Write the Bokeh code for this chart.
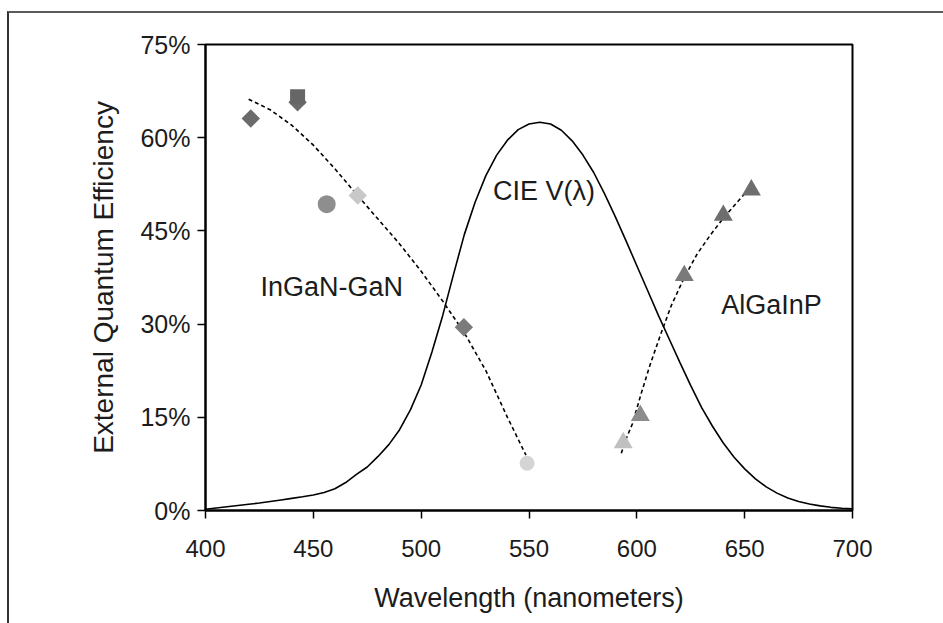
from bokeh.plotting import figure
from bokeh.models import Range1d, FixedTicker, PrintfTickFormatter
from bokeh.core.properties import value
from bokeh.embed import file_html
from bokeh.resources import INLINE

# CIE V(lambda) curve, scaled (percent)
cie_wl = [400, 405, 410, 415, 420, 425, 430, 435, 440, 445, 450, 455, 460, 465, 470, 475,
          480, 485, 490, 495, 500, 505, 510, 515, 520, 525, 530, 535, 540, 545, 550, 555,
          560, 565, 570, 575, 580, 585, 590, 595, 600, 605, 610, 615, 620, 625, 630, 635,
          640, 645, 650, 655, 660, 665, 670, 675, 680, 685, 690, 695, 700]
cie_eff = [0.2, 0.4, 0.6, 0.8, 1.0, 1.2, 1.45, 1.7, 1.95, 2.2, 2.5, 2.9, 3.5, 4.5, 5.8, 7.0,
           8.7, 10.6, 13.0, 16.2, 20.2, 25.5, 31.4, 38.0, 44.4, 49.6, 53.9, 57.2, 59.6, 61.3, 62.2, 62.5,
           62.2, 61.2, 59.5, 57.2, 54.4, 51.0, 47.3, 43.4, 39.4, 35.4, 31.4, 27.6, 23.8, 20.1, 16.6, 13.6,
           10.9, 8.6, 6.7, 5.1, 3.8, 2.8, 2.0, 1.45, 1.06, 0.75, 0.51, 0.36, 0.26]

# dashed trend lines (percent)
ingan_fit_wl = [420, 430, 440, 450, 460, 470, 480, 490, 500, 510, 520, 530, 540, 548.6]
ingan_fit_eff = [66.2, 64.5, 62.0, 58.8, 55.0, 50.9, 46.9, 42.9, 38.5, 33.7, 28.6, 22.5, 15.0, 8.9]
algainp_fit_wl = [592.8, 595, 598, 602, 606, 611, 616, 622, 628, 634, 640, 645, 650, 653]
algainp_fit_eff = [9.2, 11.5, 14.0, 18.8, 23.3, 28.3, 33.0, 37.5, 41.3, 44.3, 47.0, 49.0, 51.0, 52.0]

# InGaN-GaN measured points
ingan_diamond_wl = [421.0, 442.7, 470.6, 519.8]
ingan_diamond_eff = [63.1, 65.7, 50.7, 29.5]
ingan_diamond_color = ["#6b6b6b", "#6b6b6b", "#c8c8c8", "#7b7b7b"]
ingan_square_wl = [442.7]
ingan_square_eff = [66.6]
ingan_circle_wl = [456.2, 549.1]
ingan_circle_eff = [49.3, 7.6]
ingan_circle_color = ["#8e8e8e", "#d4d4d4"]

# AlGaInP measured points
algainp_wl = [593.7, 601.6, 622.0, 640.1, 653.1]
algainp_eff = [10.9, 15.3, 37.8, 47.5, 51.6]
algainp_color = ["#c0c0c0", "#8c8c8c", "#7a7a7a", "#6e6e6e", "#6e6e6e"]

x_ticks = [400, 450, 500, 550, 600, 650, 700]
y_ticks = [0, 15, 30, 45, 60, 75]

FONT = "Liberation Sans"
TXT = "#1c1c1c"

p = figure(width=934, height=610, output_backend="svg", toolbar_location=None,
           x_range=Range1d(400, 700), y_range=Range1d(0, 75),
           min_border_left=196, min_border_right=91, min_border_top=31, min_border_bottom=113)
p.frame_width = 647
p.frame_height = 466
p.xgrid.visible = False
p.ygrid.visible = False
p.background_fill_color = "white"
p.border_fill_color = "white"
p.outline_line_color = "black"
p.outline_line_width = 2
p.outline_line_alpha = 1

for ax in (p.xaxis[0], p.yaxis[0]):
    ax.axis_line_width = 2
    ax.axis_line_color = "black"
    ax.major_tick_line_width = 1.5
    ax.major_tick_line_color = "black"
    ax.major_tick_out = 8
    ax.major_tick_in = 0
    ax.minor_tick_line_color = None
    ax.major_label_text_font = FONT
    ax.major_label_text_color = TXT
    ax.axis_label_text_font = FONT
    ax.axis_label_text_font_style = "normal"
    ax.axis_label_text_color = TXT

p.xaxis[0].major_label_text_font_size = "24px"
p.yaxis[0].major_label_text_font_size = "25px"
p.xaxis[0].axis_label_text_font_size = "27px"
p.yaxis[0].axis_label_text_font_size = "28px"
p.xaxis[0].ticker = FixedTicker(ticks=x_ticks)
p.yaxis[0].ticker = FixedTicker(ticks=y_ticks)
p.yaxis[0].formatter = PrintfTickFormatter(format="%d%%")
p.xaxis[0].axis_label = "Wavelength (nanometers)"
p.yaxis[0].axis_label = "External Quantum Efficiency"
p.xaxis[0].major_label_standoff = 21
p.xaxis[0].axis_label_standoff = 23
p.yaxis[0].major_label_standoff = 7
p.yaxis[0].axis_label_standoff = 18

p.line(cie_wl, cie_eff, line_color="black", line_width=1.6)
p.line(ingan_fit_wl, ingan_fit_eff, line_color="black", line_width=1.6, line_dash="4 3")
p.line(algainp_fit_wl, algainp_fit_eff, line_color="black", line_width=1.6, line_dash="4 3")

p.scatter(ingan_diamond_wl, ingan_diamond_eff, marker="square", size=13, angle=0.785398,
          fill_color=ingan_diamond_color, line_color=None)
p.scatter(ingan_square_wl, ingan_square_eff, marker="square", size=15,
          fill_color="#666666", line_color=None)
p.scatter(ingan_circle_wl, ingan_circle_eff, marker="circle", size=[18, 15],
          fill_color=ingan_circle_color, line_color=None)
p.scatter(algainp_wl, algainp_eff, marker="triangle", size=19,
          fill_color=algainp_color, line_color=None)

p.text(x=[458.5], y=[36.0], text=["InGaN-GaN"], text_font=value(FONT), text_font_size="27px",
       text_align="center", text_baseline="middle", text_color=TXT)
p.text(x=[557.0], y=[51.5], text=["CIE V(λ)"], text_font=value(FONT), text_font_size="27px",
       text_align="center", text_baseline="middle", text_color=TXT)
p.text(x=[662.4], y=[33.0], text=["AlGaInP"], text_font=value(FONT), text_font_size="27px",
       text_align="center", text_baseline="middle", text_color=TXT)

p.styles = {"border-top": "2px solid #5a5a5a", "border-left": "2px solid #333333",
            "margin-top": "11px", "margin-left": "7px"}

open("out.html", "w").write(file_html(p, INLINE))
